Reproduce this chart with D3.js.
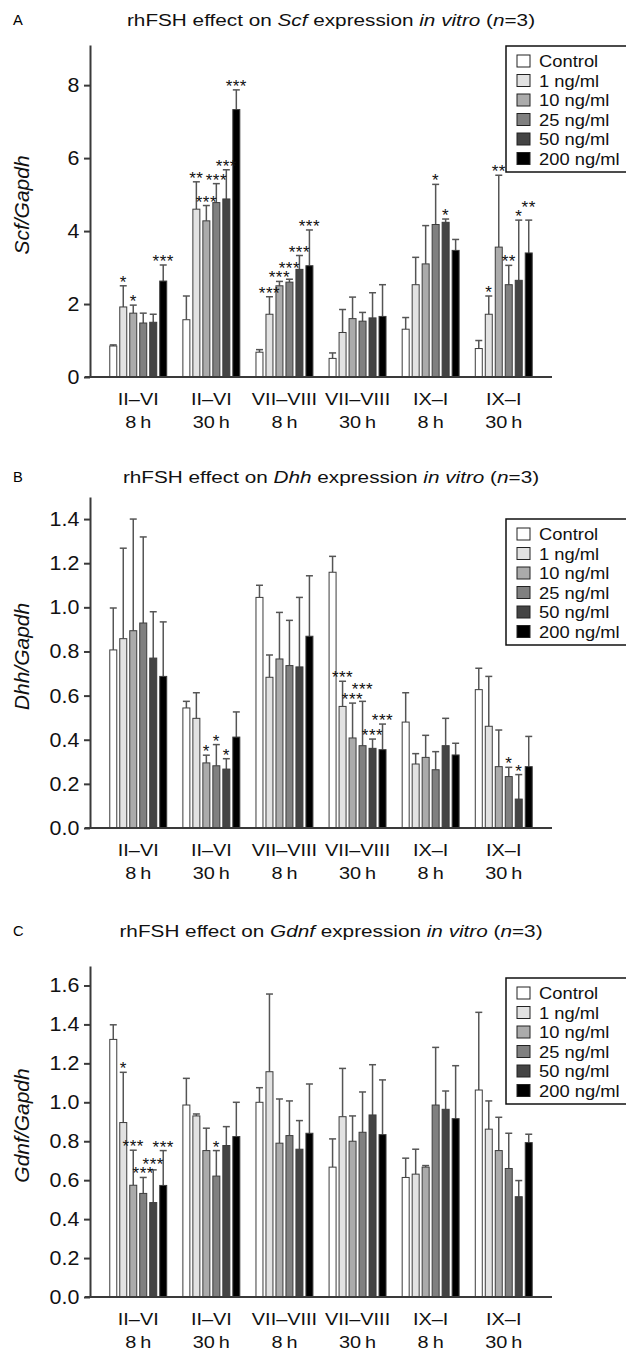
<!DOCTYPE html>
<html lang="en">
<head>
<meta charset="UTF-8">
<title>rhFSH effect on Scf, Dhh, Gdnf expression</title>
<script src="https://d3js.org/d3.v7.min.js"></script>
<style>
  body { margin: 0; background: #fff; }
  svg { display: block; font-family: "Liberation Sans", Arial, sans-serif; }
</style>
</head>
<body>
<svg id="chart" width="626" height="1352"></svg>
<script>
// Categories
const stageLabels = ["II–VI", "II–VI", "VII–VIII", "VII–VIII", "IX–I", "IX–I"];
const timeLabels = ["8\u2009h", "30\u2009h", "8\u2009h", "30\u2009h", "8\u2009h", "30\u2009h"];
const doses = ["Control", "1 ng/ml", "10 ng/ml", "25 ng/ml", "50 ng/ml", "200 ng/ml"];
const doseColors = ["#ffffff", "#e2e2e2", "#ababab", "#808080", "#444444", "#000000"];

// Panel A: Scf/Gapdh (rows = stage/time group, columns = dose)
const scfMean = [
  [0.85, 1.92, 1.75, 1.48, 1.50, 2.63],
  [1.57, 4.60, 4.28, 4.78, 4.88, 7.33],
  [0.68, 1.72, 2.50, 2.60, 2.95, 3.05],
  [0.51, 1.22, 1.60, 1.53, 1.62, 1.66],
  [1.31, 2.53, 3.10, 4.18, 4.24, 3.47],
  [0.78, 1.72, 3.56, 2.53, 2.65, 3.40]
];
const scfSem = [
  [0.03, 0.58, 0.22, 0.27, 0.22, 0.44],
  [0.65, 0.75, 0.42, 0.52, 0.80, 0.54],
  [0.07, 0.48, 0.12, 0.08, 0.38, 0.98],
  [0.15, 0.63, 0.59, 0.24, 0.69, 0.87],
  [0.32, 0.75, 1.05, 1.10, 0.09, 0.30],
  [0.22, 0.50, 1.97, 0.53, 1.65, 0.90]
];
const scfStars = [
  ["", "*", "*", "", "", "***"],
  ["", "**", "***", "***", "***", "***"],
  ["", "***", "***", "***", "***", "***"],
  ["", "", "", "", "", ""],
  ["", "", "", "*", "*", ""],
  ["", "*", "**", "**", "*", "**"]
];
const scfTicks = [0, 2, 4, 6, 8];

// Panel B: Dhh/Gapdh
const dhhMean = [
  [0.807, 0.858, 0.894, 0.929, 0.770, 0.687],
  [0.544, 0.497, 0.295, 0.282, 0.267, 0.412],
  [1.045, 0.683, 0.766, 0.736, 0.730, 0.869],
  [1.159, 0.551, 0.408, 0.373, 0.361, 0.355],
  [0.480, 0.290, 0.320, 0.264, 0.373, 0.331],
  [0.627, 0.461, 0.278, 0.233, 0.131, 0.278]
];
const dhhSem = [
  [0.190, 0.410, 0.506, 0.390, 0.210, 0.247],
  [0.030, 0.116, 0.035, 0.096, 0.047, 0.114],
  [0.055, 0.101, 0.211, 0.205, 0.315, 0.274],
  [0.072, 0.114, 0.158, 0.201, 0.042, 0.116],
  [0.133, 0.047, 0.100, 0.082, 0.124, 0.053],
  [0.097, 0.226, 0.166, 0.042, 0.111, 0.137]
];
const dhhStars = [
  ["", "", "", "", "", ""],
  ["", "", "*", "*", "*", ""],
  ["", "", "", "", "", ""],
  ["", "***", "***", "***", "***", "***"],
  ["", "", "", "", "", ""],
  ["", "", "", "*", "*", ""]
];
const dhhTicks = [0, 0.2, 0.4, 0.6, 0.8, 1.0, 1.2, 1.4];

// Panel C: Gdnf/Gapdh
const gdnfMean = [
  [1.323, 0.896, 0.574, 0.532, 0.485, 0.573],
  [0.986, 0.930, 0.752, 0.621, 0.778, 0.824],
  [1.000, 1.157, 0.790, 0.829, 0.759, 0.841],
  [0.667, 0.926, 0.800, 0.846, 0.935, 0.834],
  [0.614, 0.631, 0.667, 0.986, 0.964, 0.916],
  [1.063, 0.862, 0.752, 0.660, 0.515, 0.793]
];
const gdnfSem = [
  [0.075, 0.258, 0.180, 0.082, 0.168, 0.179],
  [0.137, 0.010, 0.115, 0.131, 0.097, 0.176],
  [0.075, 0.399, 0.227, 0.178, 0.147, 0.253],
  [0.145, 0.248, 0.130, 0.207, 0.258, 0.281],
  [0.099, 0.128, 0.008, 0.296, 0.094, 0.272],
  [0.399, 0.145, 0.171, 0.181, 0.083, 0.043]
];
const gdnfStars = [
  ["", "*", "***", "***", "***", "***"],
  ["", "", "", "*", "", ""],
  ["", "", "", "", "", ""],
  ["", "", "", "", "", ""],
  ["", "", "", "", "", ""],
  ["", "", "", "", "", ""]
];
const gdnfTicks = [0, 0.2, 0.4, 0.6, 0.8, 1.0, 1.2, 1.4, 1.6];

const svg = d3.select("#chart");
const axisX = 90, axisRight = 552;

// horizontally stretched text, like the scanned figure
function stretchText(sel, x, y, sx) {
  return sel.attr("transform", `translate(${x},${y}) scale(${sx},1)`);
}

function drawPanel(p) {
  const g = svg.append("g");

  const y = d3.scaleLinear().domain([0, p.yMax]).range([p.zero, p.top]);
  const x0 = d3.scaleBand()
    .domain(d3.range(stageLabels.length))
    .range([axisX, axisRight])
    .paddingInner(0.18)
    .paddingOuter(0.25);
  const x1 = d3.scaleBand()
    .domain(d3.range(doses.length))
    .range([0, x0.bandwidth()])
    .paddingInner(0.3)
    .paddingOuter(0.15);

  // panel letter and title
  stretchText(g.append("text"), 13, p.titleY - 1, 1.05)
    .attr("font-size", 14).text(p.letter);
  const title = stretchText(g.append("text"), 331, p.titleY, 1.22)
    .attr("text-anchor", "middle").attr("font-size", 17).attr("fill", "#111");
  title.append("tspan").text("rhFSH effect on ");
  title.append("tspan").attr("font-style", "italic").text(p.gene);
  title.append("tspan").text(" expression ");
  title.append("tspan").attr("font-style", "italic").text("in vitro");
  title.append("tspan").text(" (");
  title.append("tspan").attr("font-style", "italic").text("n");
  title.append("tspan").text("=3)");

  // y axis label
  g.append("text")
    .attr("transform", `translate(29,${(p.top + p.zero) / 2 - 6}) rotate(-90)`)
    .attr("text-anchor", "middle")
    .attr("font-size", 21)
    .attr("font-style", "italic")
    .attr("fill", "#111")
    .text(p.gene + "/Gapdh");

  // y axis
  const yAxis = g.append("g")
    .attr("transform", `translate(${axisX},0)`)
    .call(d3.axisLeft(y).tickValues(p.ticks).tickFormat(p.fmt).tickSize(6).tickSizeOuter(0));
  yAxis.select(".domain").attr("stroke", "#3a3a3a").attr("stroke-width", 2);
  yAxis.selectAll(".tick line").attr("stroke", "#3a3a3a").attr("stroke-width", 2);
  yAxis.selectAll(".tick text")
    .attr("font-size", 20)
    .attr("fill", "#111")
    .attr("x", -10)
    .attr("transform", "scale(1.07,1)");

  // bars
  const groups = g.append("g").selectAll("g")
    .data(p.mean)
    .join("g")
    .attr("transform", (d, i) => `translate(${x0(i)},0)`);

  groups.each(function (row, gi) {
    const grp = d3.select(this);
    const cells = row.map((m, di) => ({ m, s: p.sem[gi][di], star: p.stars[gi][di], di }));

    // error bars (upper only)
    grp.selectAll("line.err")
      .data(cells)
      .join("line")
      .attr("class", "err")
      .attr("x1", d => x1(d.di) + x1.bandwidth() / 2)
      .attr("x2", d => x1(d.di) + x1.bandwidth() / 2)
      .attr("y1", d => y(d.m))
      .attr("y2", d => y(d.m + d.s))
      .attr("stroke", "#555")
      .attr("stroke-width", 1.5);
    grp.selectAll("line.cap")
      .data(cells)
      .join("line")
      .attr("class", "cap")
      .attr("x1", d => x1(d.di))
      .attr("x2", d => x1(d.di) + x1.bandwidth())
      .attr("y1", d => y(d.m + d.s))
      .attr("y2", d => y(d.m + d.s))
      .attr("stroke", "#555")
      .attr("stroke-width", 1.5);

    grp.selectAll("rect")
      .data(cells)
      .join("rect")
      .attr("x", d => x1(d.di))
      .attr("y", d => y(d.m))
      .attr("width", x1.bandwidth())
      .attr("height", d => y(0) - y(d.m))
      .attr("fill", d => doseColors[d.di])
      .attr("stroke", "#3c3c3c")
      .attr("stroke-width", 1);

    // significance stars, nudged upward when they would collide
    const placed = [];
    const starCells = cells.filter(d => d.star).map(d => {
      const sx = x1(d.di) + x1.bandwidth() / 2;
      const sw = d.star.length * 7;
      let sy = y(d.m + d.s) + 2;
      while (placed.some(q => Math.abs(q.x - sx) < (q.w + sw) / 2 && Math.abs(q.y - sy) < 9)) sy -= 1;
      const s = { ...d, sx, sy, w: sw };
      placed.push({ x: sx, y: sy, w: sw });
      return s;
    });
    grp.selectAll("text.star")
      .data(starCells)
      .join("text")
      .attr("class", "star")
      .attr("x", d => d.sx)
      .attr("y", d => d.sy)
      .attr("text-anchor", "middle")
      .attr("font-size", 17)
      .attr("letter-spacing", 0.5)
      .attr("fill", "#111")
      .text(d => d.star);
  });

  // x axis baseline
  g.append("line")
    .attr("x1", axisX - 5).attr("x2", axisRight)
    .attr("y1", y(0)).attr("y2", y(0))
    .attr("stroke", "#3a3a3a").attr("stroke-width", 2);

  // group labels
  stageLabels.forEach((s, i) => {
    const cx = x0(i) + x0.bandwidth() / 2;
    stretchText(g.append("text"), cx, y(0) + 28, 1.17)
      .attr("text-anchor", "middle").attr("font-size", 17).attr("fill", "#111").text(s);
    stretchText(g.append("text"), cx, y(0) + 51, 1.17)
      .attr("text-anchor", "middle").attr("font-size", 17).attr("fill", "#111").text(timeLabels[i]);
  });

  // legend
  const lg = g.append("g").attr("transform", `translate(506,${p.legendTop})`);
  lg.append("rect")
    .attr("x", 0).attr("y", 0).attr("width", 125).attr("height", 126)
    .attr("fill", "#fff").attr("stroke", "#111").attr("stroke-width", 1.5);
  doses.forEach((d, i) => {
    const rowY = 21 + i * 19.5;
    lg.append("rect")
      .attr("x", 11).attr("y", rowY - 12).attr("width", 13).attr("height", 12)
      .attr("fill", doseColors[i]).attr("stroke", "#222").attr("stroke-width", 1);
    stretchText(lg.append("text"), 33, rowY, 1.08)
      .attr("font-size", 17).attr("fill", "#111").text(d);
  });
}

drawPanel({ letter: "A", gene: "Scf", titleY: 26, top: 45, zero: 377, yMax: 9.1,
  mean: scfMean, sem: scfSem, stars: scfStars, ticks: scfTicks, fmt: d3.format("d"), legendTop: 46 });
drawPanel({ letter: "B", gene: "Dhh", titleY: 483, top: 497, zero: 828, yMax: 1.5,
  mean: dhhMean, sem: dhhSem, stars: dhhStars, ticks: dhhTicks, fmt: d3.format(".1f"), legendTop: 519 });
drawPanel({ letter: "C", gene: "Gdnf", titleY: 937, top: 966, zero: 1297, yMax: 1.7,
  mean: gdnfMean, sem: gdnfSem, stars: gdnfStars, ticks: gdnfTicks, fmt: d3.format(".1f"), legendTop: 978 });
</script>
</body>
</html>
